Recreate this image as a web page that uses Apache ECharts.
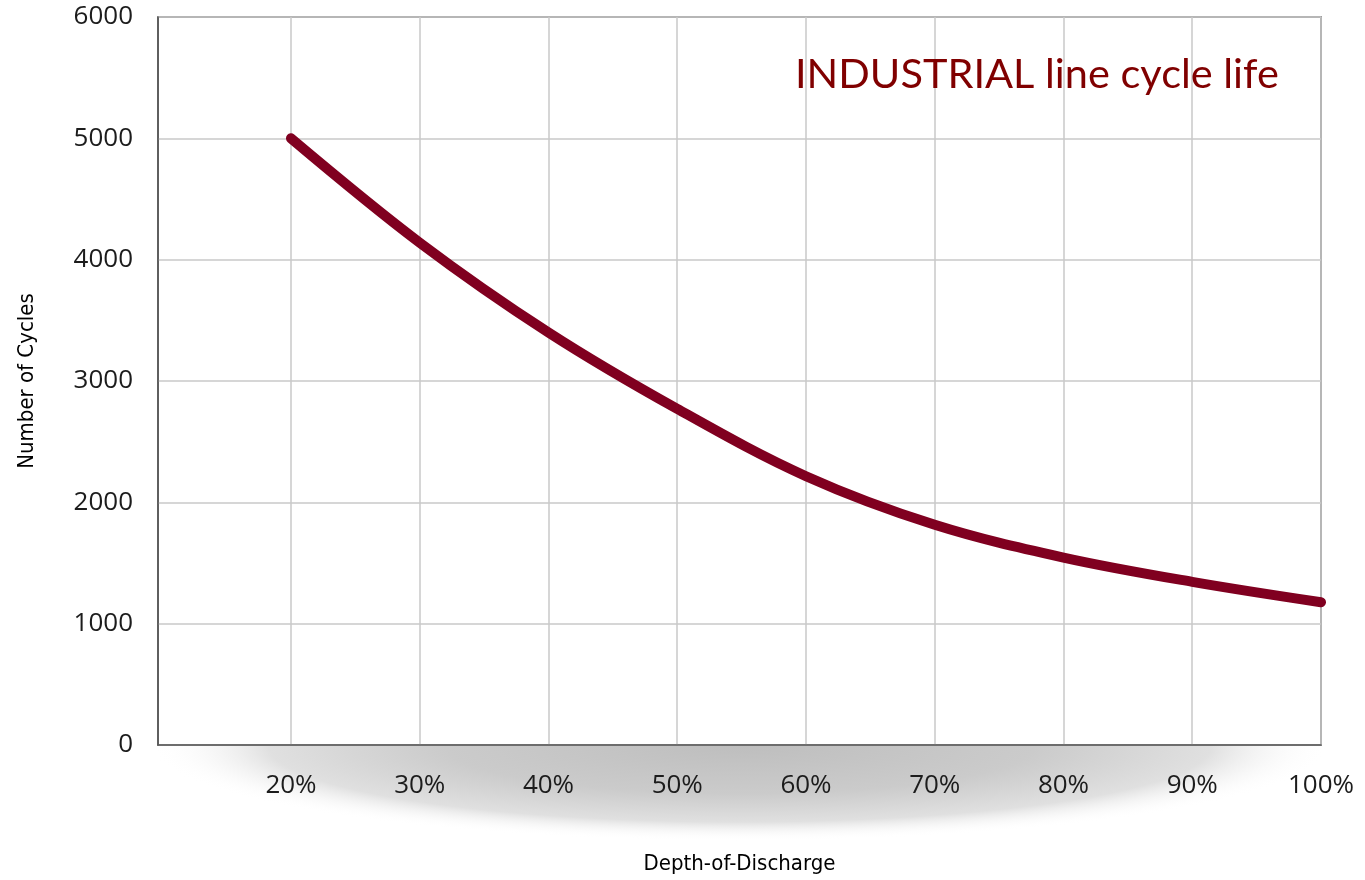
<!DOCTYPE html>
<html><head><meta charset="utf-8">
<script src="https://cdn.jsdelivr.net/npm/echarts@6/dist/echarts.min.js"></script>
<style>html,body{margin:0;padding:0;background:#fff}#c{width:1365px;height:880px}</style>
</head><body><div id="c"></div>
<script>
const depthOfDischarge = [20, 30, 40, 50, 60, 70, 80, 90, 100];
const cycles = [5000, 4140, 3400, 2770, 2215, 1815, 1545, 1345, 1177];
const xTickValues = [20, 30, 40, 50, 60, 70, 80, 90, 100];
const yTickValues = [0, 1000, 2000, 3000, 4000, 5000, 6000];
const titleText = 'INDUSTRIAL line cycle life';
const xName = 'Depth-of-Discharge';
const yName = 'Number of Cycles';

const chart = echarts.init(document.getElementById('c'), null, {renderer: 'canvas'});
chart.setOption({
  animation: false,
  backgroundColor: '#fff',
  graphic: [
    {type: 'sector', z: -10, x: 740, y: 746, scaleX: 6.2,
     shape: {cx: 0, cy: 0, r: 95, r0: 0, startAngle: 0, endAngle: Math.PI, clockwise: true},
     style: {fill: {type: 'radial', x: 0, y: 0, r: 95, global: true,
       colorStops: [{offset: 0, color: '#bebebe'}, {offset: 0.5, color: '#cbcbcb'}, {offset: 0.8, color: '#e0e0e0'}, {offset: 1, color: 'rgba(255,255,255,0)'}]}}},
    {type: 'text', z: 10, left: 795, top: 54,
     style: {text: titleText, fill: '#800000', font: '41.5px Lato'}}
  ],
  grid: {left: 158, right: 44, top: 17, bottom: 134, show: true, borderColor: '#555', borderWidth: 1.5, backgroundColor: 'transparent'},
  xAxis: {
    type: 'value', min: 9.67, max: 100,
    name: xName, nameLocation: 'middle', nameGap: 108,
    nameTextStyle: {fontFamily: 'DejaVu Sans Condensed', fontSize: 22, color: '#000'},
    axisLine: {show: true, lineStyle: {color: '#555', width: 1.5}},
    axisTick: {show: false, customValues: xTickValues},
    axisLabel: {customValues: xTickValues, formatter: v => v + '%', margin: 28, fontFamily: 'Open Sans', fontSize: 26, color: '#1c1c1c'},
    splitLine: {show: true, customValues: xTickValues, lineStyle: {color: '#c8c8c8', width: 1.5}}
  },
  yAxis: {
    type: 'value', min: 0, max: 6000, interval: 1000,
    name: yName, nameLocation: 'middle', nameGap: 120,
    nameTextStyle: {fontFamily: 'DejaVu Sans Condensed', fontSize: 22, color: '#000'},
    axisLine: {show: true, lineStyle: {color: '#555', width: 1.5}},
    axisTick: {show: false},
    axisLabel: {margin: 25, fontFamily: 'Open Sans', fontSize: 26, color: '#1c1c1c', formatter: v => String(v)},
    splitLine: {show: true, lineStyle: {color: '#c8c8c8', width: 1.5}}
  },
  series: [{
    type: 'line', smooth: 0.35, showSymbol: false, symbol: 'none',
    data: depthOfDischarge.map((d, i) => [d, cycles[i]]),
    lineStyle: {color: '#800020', width: 10, cap: 'round', join: 'round'}
  }]
});
</script></body></html>
